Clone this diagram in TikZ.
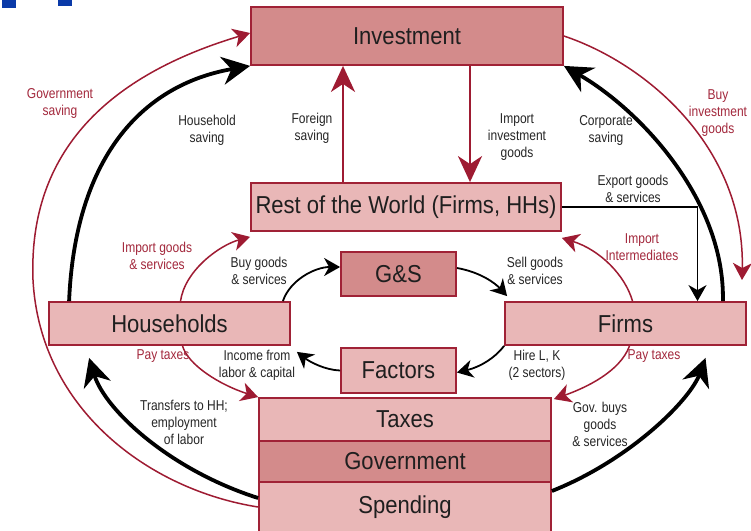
\documentclass[tikz,border=0pt]{standalone}
\usepackage{fontspec}
\setmainfont{Liberation Sans}
\newfontfamily\lblfont[FakeStretch=0.84]{Liberation Sans}
\newfontfamily\boxfont[FakeStretch=0.9]{Liberation Sans}
\usetikzlibrary{arrows.meta}
\definecolor{bdr}{HTML}{A02236}
\definecolor{dfill}{HTML}{D38B8B}
\definecolor{lfill}{HTML}{E9B7B7}
\definecolor{redline}{HTML}{9E1B32}
\definecolor{redtxt}{HTML}{A3283C}
\definecolor{bluebar}{HTML}{0A3AA8}
\begin{document}
\begin{tikzpicture}[x=1pt,y=-1pt,
 box/.style={draw=bdr,line width=1.8pt,inner sep=0pt,font=\boxfont\fontsize{24.5}{26}\selectfont,text=black!88},
 dbox/.style={box,fill=dfill},
 lbox/.style={box,fill=lfill},
 lbl/.style={align=center,inner sep=0pt,font=\lblfont\fontsize{14.3}{17}\selectfont,text=black!85},
 rlbl/.style={lbl,text=redtxt},
 thickarr/.style={draw=black,line width=3.8pt,-{Stealth[length=28pt,width=28pt,inset=9pt]}},
 thinarr/.style={draw=black,line width=1.8pt,-{Stealth[length=16pt,width=18pt,inset=5pt]}},
 redarr/.style={draw=redline,line width=1.5pt,-{Stealth[length=17pt,width=19pt,inset=5pt]}},
 redbig/.style={draw=redline,line width=2.6pt,-{Stealth[length=26pt,width=24pt,inset=8pt]}},
]
\useasboundingbox (0,0) rectangle (751,530);
\fill[white] (0,0) rectangle (751,530);
% blue remnants
\fill[bluebar] (2,0) rectangle (16,8);
\fill[bluebar] (58,0) rectangle (72,6);

% boxes
\node[dbox,minimum width=312pt,minimum height=58pt] (inv) at (407,36) {Investment};
\node[lbox,minimum width=310pt,minimum height=48pt] (row) at (406,207) {Rest of the World (Firms, HHs)};
\node[dbox,minimum width=115pt,minimum height=44pt] (gs) at (398.5,274) {G\&S};
\node[lbox,minimum width=241pt,minimum height=43pt] (hh) at (169.5,323.5) {Households};
\node[lbox,minimum width=241pt,minimum height=43pt] (firms) at (625.5,323.5) {Firms};
\node[lbox,minimum width=115pt,minimum height=45pt] (fac) at (398.5,370.5) {Factors};
\node[lbox,minimum width=292pt,minimum height=43pt] (taxes) at (405,419.5) {Taxes};
\node[dbox,minimum width=292pt,minimum height=41pt] (govt) at (405,461.5) {Government};
\node[lbox,minimum width=292pt,minimum height=50pt] (spend) at (405,507) {Spending};

\coordinate (bie) at (742,280);

% connectors
\draw[redarr] (spend.west) .. controls (150,490) and (40,410) .. (33,280)
   .. controls (28,150) and (110,75) .. ([yshift=3pt]inv.west);
\draw[thickarr] ([xshift=21pt]hh.north west) .. controls (75,160) and (140,85) .. (inv.south west);
\draw[redbig] ([xshift=-63pt]row.north) -- ([xshift=-64pt]inv.south);
\draw[redbig] ([xshift=63pt]inv.south) -- ([xshift=64pt]row.north);
\draw[thickarr] ([xshift=-24pt]firms.north east) .. controls (725,200) and (640,110) .. (inv.south east);
\draw[redarr] (inv.east) .. controls (650,65) and (745,150) .. (bie);
\draw[thinarr] (row.east) -| ([xshift=72pt]firms.north);
\draw[redarr] ([xshift=7pt]firms.north) .. controls (625,275) and (600,250) .. ([yshift=-6pt]row.south east);
\draw[redarr] ([xshift=11pt]hh.north) .. controls (185,270) and (220,245) .. ([yshift=-5pt]row.south west);
\draw[thinarr] ([xshift=-8pt]hh.north east) .. controls (290,280) and (315,267) .. ([yshift=7pt]gs.west);
\draw[thinarr] ([yshift=6pt]gs.east) .. controls (480,272) and (495,283) .. ([shift={(3pt,5pt)}]firms.north west);
\draw[thinarr] (firms.south west) .. controls (495,358) and (480,367) .. ([yshift=-2pt]fac.east);
\draw[thinarr] (fac.west) .. controls (325,370) and (310,362) .. ([shift={(6pt,-6pt)}]hh.south east);
\draw[redarr] ([xshift=13pt]hh.south) .. controls (188,365) and (220,385) .. (taxes.north west);
\draw[redarr] ([xshift=4pt]firms.south) .. controls (620,372) and (585,388) .. ([shift={(2pt,-2pt)}]taxes.north east);
\draw[thickarr] ([yshift=9pt]spend.west) .. controls (170,470) and (105,410) .. ([shift={(41pt,-12pt)}]hh.south west);
\draw[thickarr] ([yshift=16pt]spend.east) .. controls (630,460) and (690,400) .. ([shift={(80pt,-12pt)}]firms.south);

% labels
\node[rlbl] (l1) at (60,103) {Government\\saving};
\node[lbl] (l2) at (207,130) {Household\\saving};
\node[lbl] (l3) at (312,128) {Foreign\\saving};
\node[lbl] (l4) at (517,137) {Import\\investment\\goods};
\node[lbl] (l5) at (606,130) {Corporate\\saving};
\node[rlbl] (l6) at (718,113) {Buy\\investment\\goods};
\node[lbl] (l7) at (633,189) {Export goods\\\& services};
\node[rlbl] (l8) at (642,247) {Import\\Intermediates};
\node[rlbl] (l9) at (157,256) {Import goods\\\& services};
\node[lbl] (l10) at (259,271) {Buy goods\\\& services};
\node[lbl] (l11) at (535,271) {Sell goods\\\& services};
\node[rlbl] (l12) at (163,356) {Pay taxes};
\node[lbl] (l13) at (257,365) {Income from\\labor \& capital};
\node[lbl] (l14) at (537,365) {Hire L, K\\(2 sectors)};
\node[rlbl] (l15) at (654,356) {Pay taxes};
\node[lbl] (l16) at (184,422) {Transfers to HH;\\employment\\of labor};
\node[lbl] (l17) at (600,424) {Gov. buys\\goods\\\& services};
\end{tikzpicture}
\end{document}
